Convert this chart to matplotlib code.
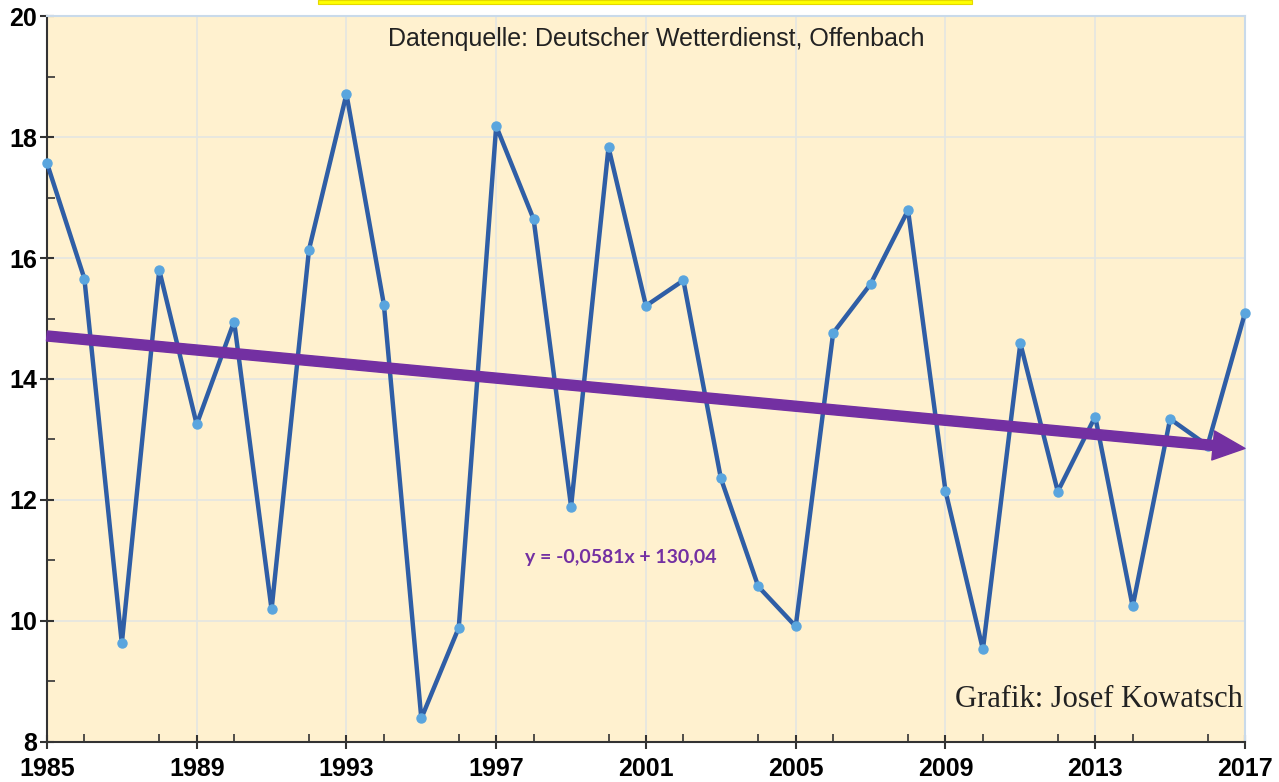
import matplotlib.pyplot as plt
from matplotlib.patches import Rectangle, FancyArrowPatch
from matplotlib.ticker import MultipleLocator

# Jahre und Werte
jahre = list(range(1985, 2018))
werte = [17.57, 15.66, 9.63, 15.80, 13.25, 14.95, 10.19, 16.14, 18.71, 15.23,
         8.39, 9.89, 18.18, 16.64, 11.89, 17.83, 15.21, 15.63, 12.36, 10.57,
         9.91, 14.76, 15.57, 16.79, 12.15, 9.53, 14.59, 12.14, 13.38, 10.24,
         13.34, 12.90, 15.09]

# Trendlinie laut Gleichung
steigung = -0.0581
achse = 130.04
x_ticks = [1985, 1989, 1993, 1997, 2001, 2005, 2009, 2013, 2017]
y_ticks = [8, 10, 12, 14, 16, 18, 20]

fig = plt.figure(figsize=(12.79, 7.82), dpi=100)
ax = fig.add_axes([0.0367, 0.0512, 0.9367, 0.9283])
ax.set_facecolor('#FFF1CF')

ax.set_xlim(1985, 2017)
ax.set_ylim(8, 20)
ax.set_xticks(x_ticks)
ax.set_yticks(y_ticks)
ax.xaxis.set_minor_locator(MultipleLocator(2))
ax.yaxis.set_minor_locator(MultipleLocator(1))
ax.grid(True, which='major', color='#E4E6E2', linewidth=1.2)
ax.set_axisbelow(True)

for lbl in ax.get_xticklabels():
    lbl.set_fontfamily('Liberation Sans')
    lbl.set_fontweight('bold')
    lbl.set_fontsize(18)
for lbl in ax.get_yticklabels():
    lbl.set_fontfamily('Liberation Sans')
    lbl.set_fontweight('bold')
    lbl.set_fontsize(18)
ax.tick_params(which='major', direction='inout', length=10, width=1.5, color='#333333')
ax.tick_params(which='minor', direction='in', length=6, width=1.2, color='#333333')
ax.tick_params(axis='x', pad=6)
ax.tick_params(axis='y', pad=2)

for s in ['left', 'bottom']:
    ax.spines[s].set_color('#333333')
    ax.spines[s].set_linewidth(1.5)
for s in ['top', 'right']:
    ax.spines[s].set_color('#C9DAEA')
    ax.spines[s].set_linewidth(1.5)

# Datenreihe
ax.plot(jahre, werte, color='#2F5EA6', linewidth=3.2, zorder=3,
        marker='o', markersize=6.5, markerfacecolor='#5AA5DE',
        markeredgecolor='#5AA5DE', clip_on=False)

# Trendpfeil
y0 = steigung * jahre[0] + achse
y1 = steigung * jahre[-1] + achse
pfeil = FancyArrowPatch((jahre[0], y0), (jahre[-1], y1),
                        arrowstyle='simple,head_length=1.15,head_width=1.05,tail_width=0.36',
                        mutation_scale=20, color='#7330A2', zorder=4,
                        shrinkA=0, shrinkB=0, clip_on=False)
ax.add_patch(pfeil)

ax.text(0.509, 0.9685, 'Datenquelle: Deutscher Wetterdienst, Offenbach',
        transform=ax.transAxes, ha='center', va='center', fontsize=18,
        family='Liberation Sans', color='#222222')
ax.text(0.9985, 0.048, 'Grafik: Josef Kowatsch', transform=ax.transAxes,
        ha='right', va='baseline', fontsize=22, family='Liberation Serif',
        color='#222222')
ax.text(2000.33, 11.05, 'y = -0,0581x + 130,04', ha='center', va='center',
        fontsize=14, fontweight='bold', family='Lato', color='#7330A2')

# gelber Titelbalken (abgeschnitten)
fig.patches.append(Rectangle((318 / 1279, 1 - 4 / 782), 654 / 1279, 4 / 782,
                             transform=fig.transFigure, facecolor='#FFFF00',
                             edgecolor='#E5D800', linewidth=0.8))

fig.savefig('out.png', dpi=100)
